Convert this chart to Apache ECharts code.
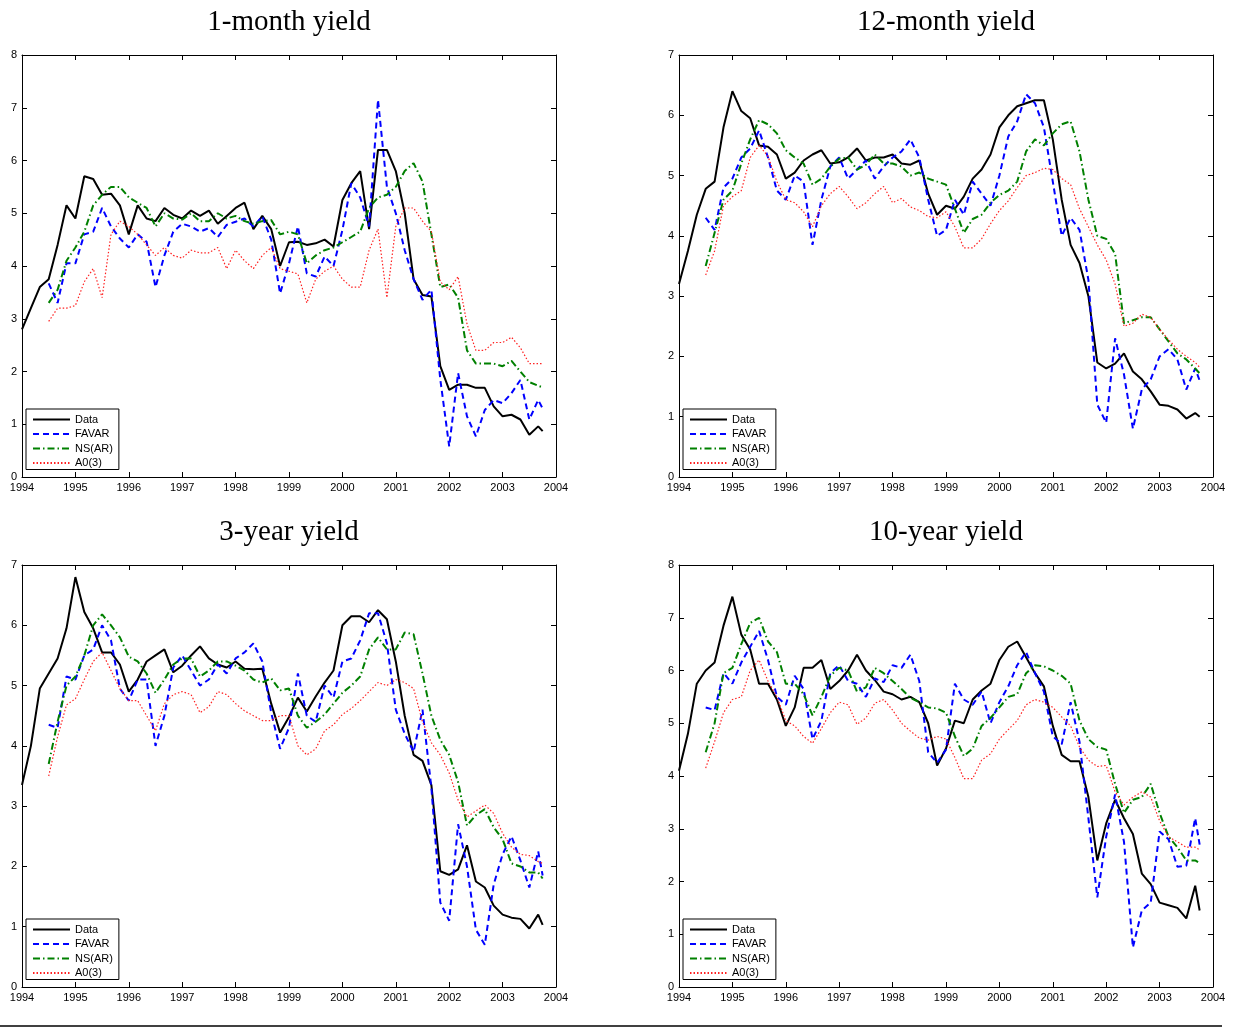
<!DOCTYPE html>
<html>
<head>
<meta charset="utf-8">
<script src="https://cdn.jsdelivr.net/npm/echarts@6/dist/echarts.min.js"></script>
<style>
html, body { margin: 0; padding: 0; background: #fff; }
#chart { width: 1239px; height: 1030px; }
</style>
</head>
<body>
<div id="chart"></div>
<script>
// sample dates: every second month from Jan 1994, plus the last month (Oct 2003)
const months = []
for (let m = 0; m <= 116; m += 2) months.push(m)
months.push(117)
const dates = months.map(m => 1994 + m / 12)
// forecasts start in mid 1994 (index 3 of dates)
const fcStart = 3

const seriesNames = ['Data', 'FAVAR', 'NS(AR)', 'A0(3)']
const yearTicks = [1994, 2004]

// 1-month yield
const m1Data = [2.8, 3.2, 3.6, 3.75, 4.4, 5.15,
  4.9, 5.7, 5.65, 5.35, 5.37, 5.15,
  4.6, 5.15, 4.9, 4.85, 5.1, 4.97,
  4.9, 5.05, 4.95, 5.05, 4.8, 4.95,
  5.1, 5.2, 4.7, 4.95, 4.7, 4.0,
  4.45, 4.46, 4.4, 4.43, 4.5, 4.37,
  5.25, 5.57, 5.8, 4.7, 6.2, 6.2,
  5.8, 5.0, 3.75, 3.45, 3.42, 2.1,
  1.65, 1.75, 1.75, 1.69, 1.69, 1.34,
  1.15, 1.18, 1.09, 0.8, 0.96, 0.87]
const m1Favar = [3.67, 3.3, 4.05,
  4.05, 4.6, 4.65, 5.1, 4.75, 4.52,
  4.35, 4.6, 4.46, 3.6, 4.2, 4.65,
  4.8, 4.75, 4.65, 4.72, 4.55, 4.78,
  4.84, 4.9, 4.75, 4.94, 4.5, 3.48,
  4.05, 4.75, 3.86, 3.8, 4.18, 4.0,
  4.68, 5.57, 5.3, 4.75, 7.15, 5.5,
  5.0, 4.3, 3.75, 3.36, 3.55, 1.85,
  0.58, 1.97, 1.15, 0.77, 1.27, 1.46,
  1.4, 1.59, 1.84, 1.09, 1.46, 1.3]
const m1Ns = [3.3, 3.55, 4.1,
  4.35, 4.65, 5.15, 5.35, 5.5, 5.5,
  5.3, 5.2, 5.1, 4.75, 5.0, 4.9,
  4.88, 5.0, 4.85, 4.85, 5.0, 4.9,
  4.95, 4.85, 4.8, 4.85, 4.87, 4.6,
  4.65, 4.6, 4.05, 4.2, 4.3, 4.35,
  4.45, 4.55, 4.65, 5.1, 5.3, 5.35,
  5.5, 5.8, 5.95, 5.6, 4.6, 3.6,
  3.65, 3.4, 2.4, 2.15, 2.15, 2.15,
  2.1, 2.2, 2.0, 1.8, 1.73, 1.7]
const m1A0 = [2.95, 3.2, 3.2,
  3.25, 3.7, 3.95, 3.4, 4.6, 4.85,
  4.75, 4.6, 4.4, 4.2, 4.35, 4.2,
  4.15, 4.3, 4.25, 4.25, 4.35, 3.95,
  4.3, 4.1, 3.95, 4.2, 4.35, 3.95,
  3.9, 3.85, 3.3, 3.75, 3.9, 4.0,
  3.75, 3.6, 3.6, 4.3, 4.7, 3.4,
  4.75, 5.1, 5.1, 4.85, 4.65, 3.7,
  3.55, 3.8, 2.9, 2.4, 2.4, 2.55,
  2.55, 2.65, 2.45, 2.15, 2.15, 2.15]

// 12-month yield
const m12Data = [3.2, 3.75, 4.35, 4.78, 4.9, 5.8,
  6.4, 6.07, 5.95, 5.5, 5.48, 5.35,
  4.95, 5.05, 5.25, 5.35, 5.42, 5.2,
  5.22, 5.3, 5.45, 5.25, 5.3, 5.3,
  5.35, 5.2, 5.18, 5.25, 4.7, 4.35,
  4.5, 4.45, 4.65, 4.95, 5.1, 5.35,
  5.8, 6.0, 6.15, 6.2, 6.25, 6.25,
  5.6, 4.6, 3.85, 3.55, 3.0, 1.9,
  1.8, 1.88, 2.05, 1.75, 1.62, 1.42,
  1.2, 1.18, 1.12, 0.97, 1.06, 1.0]
const m12Favar = [4.3, 4.1, 4.8,
  4.95, 5.3, 5.45, 5.75, 5.3, 4.75,
  4.6, 5.0, 4.9, 3.85, 4.6, 5.15,
  5.3, 4.95, 5.1, 5.25, 4.95, 5.15,
  5.3, 5.4, 5.6, 5.3, 4.6, 4.0,
  4.1, 4.6, 4.35, 4.9, 4.7, 4.5,
  5.0, 5.65, 5.9, 6.35, 6.2, 5.8,
  4.9, 4.0, 4.3, 4.1, 3.27, 1.2,
  0.9, 2.3, 1.7, 0.8, 1.45, 1.62,
  2.0, 2.12, 1.95, 1.45, 1.8, 1.6]
const m12Ns = [3.5, 4.05, 4.6,
  4.75, 5.2, 5.6, 5.92, 5.85, 5.7,
  5.42, 5.3, 5.2, 4.85, 4.95, 5.15,
  5.28, 5.3, 5.1, 5.18, 5.35, 5.2,
  5.2, 5.15, 5.0, 5.05, 4.95, 4.9,
  4.85, 4.45, 4.05, 4.28, 4.35, 4.55,
  4.68, 4.75, 4.9, 5.4, 5.6, 5.5,
  5.7, 5.85, 5.9, 5.4, 4.6, 4.0,
  3.95, 3.7, 2.55, 2.6, 2.65, 2.65,
  2.45, 2.25, 2.05, 1.95, 1.8, 1.72]
const m12A0 = [3.35, 3.75, 4.5,
  4.65, 4.75, 5.3, 5.5, 5.32, 4.9,
  4.6, 4.55, 4.4, 4.15, 4.5, 4.7,
  4.82, 4.65, 4.45, 4.55, 4.7, 4.82,
  4.55, 4.62, 4.48, 4.42, 4.32, 4.3,
  4.4, 4.15, 3.8, 3.8, 3.95, 4.2,
  4.42, 4.58, 4.8, 5.0, 5.05, 5.12,
  5.1, 4.95, 4.85, 4.45, 4.15, 3.85,
  3.6, 3.2, 2.5, 2.55, 2.7, 2.65,
  2.45, 2.28, 2.12, 2.0, 1.9, 1.82]

// 3-year yield
const y3Data = [3.35, 4.0, 4.95, 5.2, 5.45, 5.95,
  6.8, 6.22, 5.95, 5.55, 5.55, 5.35,
  4.9, 5.1, 5.4, 5.5, 5.6, 5.22,
  5.33, 5.5, 5.65, 5.45, 5.35, 5.3,
  5.4, 5.28, 5.27, 5.28, 4.7, 4.22,
  4.48, 4.8, 4.57, 4.82, 5.05, 5.25,
  6.0, 6.15, 6.15, 6.05, 6.25, 6.1,
  5.4, 4.5, 3.85, 3.75, 3.35, 1.92,
  1.86, 1.95, 2.35, 1.75, 1.65, 1.35,
  1.2, 1.15, 1.13, 0.97, 1.2, 1.03]
const y3Favar = [4.35, 4.3, 5.15,
  5.1, 5.5, 5.6, 6.0, 5.75, 4.95,
  4.75, 5.1, 5.1, 4.0, 4.5, 5.3,
  5.5, 5.25, 5.0, 5.1, 5.35, 5.2,
  5.45, 5.55, 5.7, 5.4, 4.55, 3.95,
  4.3, 5.2, 4.5, 4.4, 5.0, 4.8,
  5.4, 5.45, 5.75, 6.2, 6.2, 5.7,
  4.6, 4.2, 3.9, 4.6, 3.3, 1.4,
  1.1, 2.7, 2.0, 0.95, 0.7, 1.7,
  2.2, 2.5, 2.1, 1.65, 2.25, 1.85]
const y3Ns = [3.7, 4.4, 5.0,
  5.15, 5.5, 6.0, 6.18, 6.0, 5.8,
  5.48, 5.4, 5.2, 4.88, 5.1, 5.35,
  5.45, 5.45, 5.15, 5.25, 5.4, 5.4,
  5.33, 5.25, 5.1, 5.05, 5.12, 4.92,
  4.95, 4.5, 4.3, 4.4, 4.52, 4.7,
  4.88, 5.0, 5.15, 5.6, 5.8, 5.6,
  5.6, 5.88, 5.85, 5.2, 4.5, 4.1,
  3.85, 3.4, 2.68, 2.85, 2.95, 2.65,
  2.45, 2.05, 2.0, 1.9, 1.9, 1.8]
const y3A0 = [3.5, 4.15, 4.68,
  4.78, 5.1, 5.4, 5.55, 5.25, 4.95,
  4.75, 4.75, 4.5, 4.25, 4.7, 4.85,
  4.9, 4.85, 4.55, 4.65, 4.9, 4.85,
  4.7, 4.58, 4.5, 4.42, 4.42, 4.5,
  4.5, 4.0, 3.85, 3.95, 4.25, 4.35,
  4.52, 4.62, 4.75, 4.9, 5.05, 5.0,
  5.1, 5.05, 4.95, 4.4, 4.05, 3.85,
  3.55, 3.1, 2.82, 2.92, 3.02, 2.88,
  2.55, 2.32, 2.2, 2.18, 2.08, 2.05]

// 10-year yield
const y10Data = [4.1, 4.8, 5.75, 6.0, 6.15, 6.85,
  7.4, 6.68, 6.4, 5.75, 5.75, 5.45,
  4.95, 5.3, 6.05, 6.05, 6.2, 5.65,
  5.8, 6.0, 6.3, 6.0, 5.82, 5.6,
  5.55, 5.45, 5.5, 5.4, 5.0, 4.2,
  4.52, 5.05, 5.0, 5.45, 5.62, 5.75,
  6.2, 6.45, 6.55, 6.25, 5.95, 5.7,
  4.95, 4.4, 4.28, 4.28, 3.6, 2.4,
  3.1, 3.55, 3.2, 2.9, 2.15, 1.95,
  1.6, 1.55, 1.5, 1.3, 1.92, 1.45]
const y10Favar = [5.3, 5.25, 5.95,
  5.75, 6.15, 6.45, 6.75, 6.2, 5.5,
  5.35, 5.9, 5.65, 4.7, 5.05, 5.95,
  6.1, 5.8, 5.75, 5.5, 5.85, 5.78,
  6.1, 6.05, 6.3, 5.8, 4.45, 4.25,
  4.5, 5.75, 5.45, 5.35, 5.6, 5.0,
  5.4, 5.7, 6.1, 6.35, 5.95, 5.6,
  4.75, 4.6, 5.4, 4.65, 3.2, 1.7,
  2.85, 3.65, 2.75, 0.75, 1.45, 1.6,
  2.95, 2.8, 2.28, 2.3, 3.2, 2.7]
const y10Ns = [4.45, 5.0, 5.95,
  6.05, 6.5, 6.9, 7.0, 6.55, 6.35,
  5.75, 5.75, 5.55, 5.15, 5.5, 5.9,
  6.05, 6.0, 5.6, 5.68, 6.05, 5.95,
  5.8, 5.65, 5.48, 5.4, 5.3, 5.28,
  5.2, 4.75, 4.38, 4.52, 4.95, 5.1,
  5.3, 5.5, 5.55, 5.95, 6.1, 6.08,
  6.0, 5.9, 5.75, 5.05, 4.7, 4.55,
  4.5, 3.85, 3.3, 3.55, 3.6, 3.85,
  3.3, 2.85, 2.65, 2.4, 2.4, 2.35]
const y10A0 = [4.15, 4.65, 5.2,
  5.45, 5.5, 6.0, 6.2, 5.8, 5.5,
  5.05, 4.95, 4.75, 4.62, 4.9, 5.2,
  5.4, 5.35, 4.98, 5.1, 5.38, 5.45,
  5.25, 5.0, 4.85, 4.72, 4.68, 4.75,
  4.7, 4.35, 3.95, 3.95, 4.3, 4.42,
  4.7, 4.88, 5.05, 5.35, 5.45, 5.4,
  5.3, 5.12, 4.95, 4.55, 4.3, 4.18,
  4.2, 3.7, 3.45, 3.6, 3.7, 3.6,
  3.15, 2.85, 2.75, 2.65, 2.65, 2.6]

const panels = [
  { title: '1-month yield', yMax: 8, values: [m1Data, m1Favar, m1Ns, m1A0] },
  { title: '12-month yield', yMax: 7, values: [m12Data, m12Favar, m12Ns, m12A0] },
  { title: '3-year yield', yMax: 7, values: [y3Data, y3Favar, y3Ns, y3A0] },
  { title: '10-year yield', yMax: 8, values: [y10Data, y10Favar, y10Ns, y10A0] }
]

// plot boxes (pixels)
const boxes = [
  { left: 22, top: 55 },
  { left: 679, top: 55 },
  { left: 22, top: 565 },
  { left: 679, top: 565 }
]
const boxW = 534
const boxH = 422

const lineStyles = [
  { color: '#000000', width: 2, type: 'solid' },
  { color: '#0000ff', width: 2, type: [6, 4] },
  { color: '#008000', width: 2, type: [7, 3, 1.5, 3] },
  { color: '#ff2020', width: 1.2, type: [1.5, 2] }
]

const labelFont = { fontFamily: 'Liberation Sans', fontSize: 11, color: '#000' }
const axisLine = { onZero: false, lineStyle: { color: '#000', width: 1 } }
const axisTick = { inside: true, length: 5, lineStyle: { color: '#000' } }

const toPairs = (vals, offset) => vals.map((v, k) => [dates[k + offset], v])

const chartDom = document.getElementById('chart')
const myChart = echarts.init(chartDom, null, { renderer: 'canvas' })

const grid = []
const xAxis = []
const yAxis = []
const series = []
const title = []
const legend = []

panels.forEach((p, i) => {
  const b = boxes[i]
  grid.push({ left: b.left, top: b.top, width: boxW, height: boxH })
  // bottom and top x axes
  xAxis.push({
    type: 'value', gridIndex: i, min: yearTicks[0], max: yearTicks[1], interval: 1,
    axisLine, axisTick, splitLine: { show: false },
    axisLabel: { ...labelFont, margin: 5, formatter: v => String(v) }
  })
  xAxis.push({
    type: 'value', gridIndex: i, position: 'top', min: yearTicks[0], max: yearTicks[1], interval: 1,
    axisLine, axisTick, splitLine: { show: false }, axisLabel: { show: false }
  })
  // left and right y axes
  yAxis.push({
    type: 'value', gridIndex: i, min: 0, max: p.yMax, interval: 1,
    axisLine, axisTick, splitLine: { show: false },
    axisLabel: { ...labelFont, margin: 5 }
  })
  yAxis.push({
    type: 'value', gridIndex: i, position: 'right', min: 0, max: p.yMax, interval: 1,
    axisLine, axisTick, splitLine: { show: false }, axisLabel: { show: false }
  })

  p.values.forEach((vals, s) => {
    series.push({
      type: 'line',
      name: seriesNames[s],
      xAxisIndex: 2 * i,
      yAxisIndex: 2 * i,
      data: toPairs(vals, s === 0 ? 0 : fcStart),
      symbol: 'none',
      showSymbol: false,
      color: lineStyles[s].color,
      lineStyle: lineStyles[s],
      silent: true
    })
  })

  title.push({
    text: p.title,
    left: b.left + boxW / 2,
    top: b.top - 47,
    padding: 0,
    textAlign: 'center',
    textStyle: { fontFamily: 'Liberation Serif', fontWeight: 'normal', fontSize: 29, color: '#000' }
  })

  legend.push({
    data: seriesNames,
    orient: 'vertical',
    left: b.left + 4,
    top: b.top + 354,
    itemWidth: 37,
    itemHeight: 11,
    itemGap: 3.5,
    padding: [5, 6, 1, 6],
    backgroundColor: '#fff',
    borderColor: '#000',
    borderWidth: 1,
    borderRadius: 0,
    selectedMode: false,
    // keep only the line sample, no marker
    itemStyle: { opacity: 0 },
    textStyle: labelFont
  })
})

const option = {
  animation: false,
  backgroundColor: '#fff',
  title,
  legend,
  grid,
  xAxis,
  yAxis,
  series,
  graphic: [{
    type: 'line',
    shape: { x1: 0, y1: 1026, x2: 1222, y2: 1026 },
    style: { stroke: '#000', lineWidth: 1.5 }
  }]
}
myChart.setOption(option)
</script>
</body>
</html>
